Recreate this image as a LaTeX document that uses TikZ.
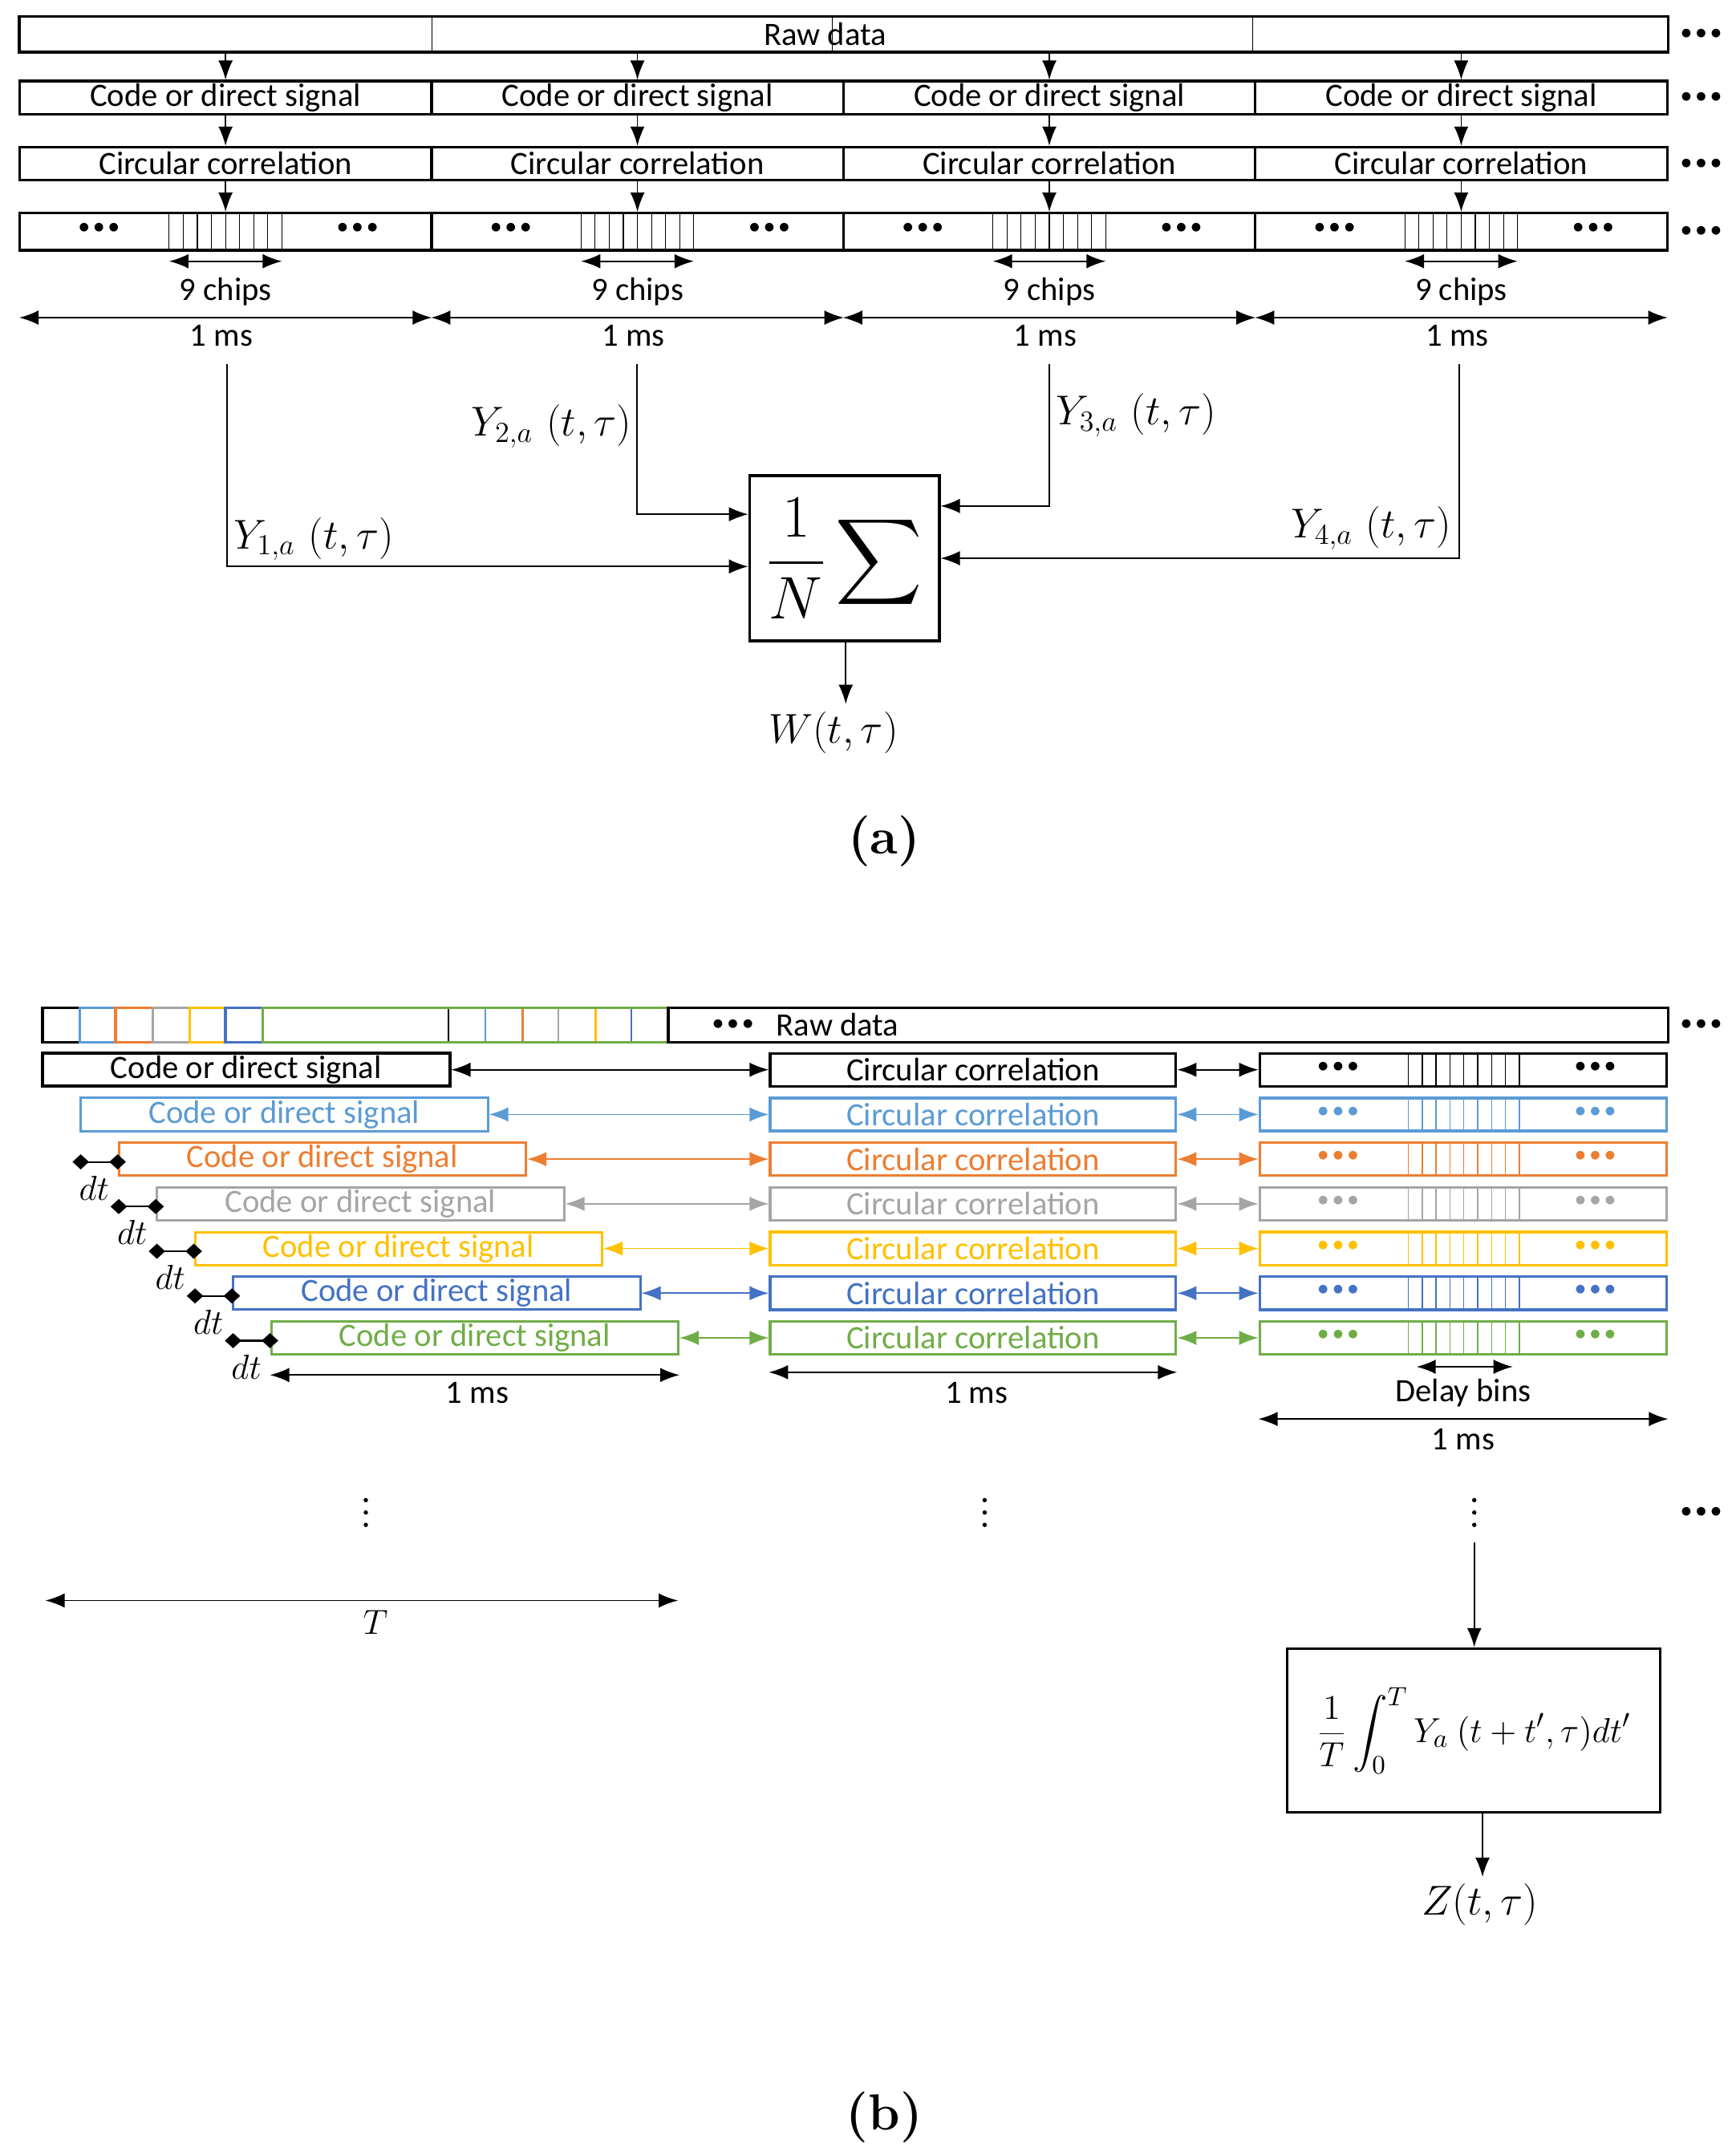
\documentclass[tikz,border=0pt]{standalone}
\usepackage{fontspec}
\setsansfont{Carlito}
\usepackage{amsmath}
\usetikzlibrary{arrows.meta,calc}
\definecolor{cA}{HTML}{5B9BD5}
\definecolor{cB}{HTML}{ED7D31}
\definecolor{cC}{HTML}{A5A5A5}
\definecolor{cD}{HTML}{FFC000}
\definecolor{cE}{HTML}{4472C4}
\definecolor{cF}{HTML}{70AD47}
\newcommand{\bdts}{$\bullet\mkern-1mu\bullet\mkern-1mu\bullet$}
\begin{document}
\begin{tikzpicture}[x=0.2mm,y=-0.2mm,
  every node/.style={font=\sffamily\fontsize{13.5}{15}\selectfont},
  box/.style={draw,line width=1.1pt,inner sep=0pt,minimum height=4.8mm},
  arr/.style={-{Latex[length=2.8mm,width=2.1mm]},line width=0.6pt},
  darr/.style={{Latex[length=2.8mm,width=2.1mm]}-{Latex[length=2.8mm,width=2.1mm]},line width=0.6pt},
  dmd/.style={{Diamond[length=2.4mm,width=2.2mm]}-{Diamond[length=2.4mm,width=2.2mm]},line width=0.7pt,shorten <=-1.2mm,shorten >=-1.2mm},
  dots/.style={font=\fontsize{9}{9}\selectfont},
  mathlbl/.style={font=\fontsize{18}{20}\selectfont}]
\useasboundingbox (0,0) rectangle (1259,1568);
% ---------------- (a) ----------------
\node[box,minimum width=239.8mm,minimum height=5.2mm] (raw) at (613.5,25) {};
\node at (600,25) {Raw data};
\foreach \x in {314,605,911} \draw[line width=0.4pt] (\x,12) -- (\x,38);
\foreach \y in {25,71,119,168} \node[dots] at (1237,\y) {\bdts};
\foreach \i/\cx in {1/164,2/463.5,3/763,4/1062.5}{
  \node[box,minimum width=59.9mm] (cd\i) at (\cx,71) {Code or direct signal};
  \node[box,minimum width=59.9mm] (cc\i) at (\cx,119) {Circular correlation};
  \node[box,minimum width=59.9mm,minimum height=5.4mm] (ch\i) at (\cx,168.5) {};
  \draw[arr] (raw.south -| cd\i) -- (cd\i.north);
  \draw[arr] (cd\i) -- (cc\i);
  \draw[arr] (cc\i) -- (ch\i.north);
  \foreach \k in {0,...,8} \draw[line width=0.4pt] (\cx-41+\k*10.25,155) -- ++(0,27);
  \node[dots] at (\cx-92,166) {\bdts};
  \node[dots] at (\cx+96,166) {\bdts};
  \draw[darr] (\cx-41,190) -- (\cx+41,190);
  \node at (\cx,212) {9 chips};
  \draw[darr] (\cx-150,231) -- (\cx+150,231);
  \node at (\cx-3,244) {1 ms};
}
\node[draw,line width=1.1pt,minimum width=27.6mm,minimum height=24mm,inner sep=0pt] (sum) at (614,406)
  {\fontsize{26}{28}\selectfont$\dfrac{1}{N}\displaystyle\sum$};
\coordinate (y1) at (165,265); \coordinate (y2) at (463,265);
\coordinate (y3) at (763,265); \coordinate (y4) at (1061,265);
\draw[arr] (y1) |- ($(sum.west)+(0,6)$);
\draw[arr] (y2) |- ($(sum.west)+(0,-32)$);
\draw[arr] (y3) |- ($(sum.east)+(0,-38)$);
\draw[arr] (y4) |- (sum.east);
\node[mathlbl] at (228,392) {$Y_{1,a}\ (t,\tau)$};
\node[mathlbl] at (401,310) {$Y_{2,a}\ (t,\tau)$};
\node[mathlbl] at (826,302) {$Y_{3,a}\ (t,\tau)$};
\node[mathlbl] at (997,384) {$Y_{4,a}\ (t,\tau)$};
\coordinate (wout) at (615,512);
\draw[arr] (sum.south -| wout) -- (wout);
\node[mathlbl] at (606,533) {$W(t,\tau)$};
\node[font=\rmfamily\bfseries\fontsize{21}{24}\selectfont] at (643,612) {(a)};
% ---------------- (b) ----------------
\draw[line width=1.1pt] (31,733) rectangle (58,758);
\foreach \a/\b/\c in {58/84/cA,84/111/cB,111/138/cC,138/164/cD,164/191/cE,191/486/cF}
  \draw[\c,line width=1.1pt] (\a,733) rectangle (\b,758);
\foreach \x/\c in {326/black,353/cA,380/cB,406/cC,433/cD,459/cE}
  \draw[\c,line width=0.8pt] (\x,734) -- (\x,757);
\node[box,minimum width=145.4mm,minimum height=5mm] (rawb) at (849.5,745.5) {};
\node[dots] at (533,745) {\bdts};
\node at (609,745) {Raw data};
\node[dots] at (1237,745) {\bdts};
\foreach \i/\c in {0/black,1/cA,2/cB,3/cC,4/cD,5/cE,6/cF}{
  \pgfmathsetmacro{\yy}{778+32.5*\i}
  \pgfmathsetmacro{\xx}{31+27.7*\i}
  \node[box,draw=\c,text=\c,minimum width=59.2mm,line width={\i==0?1.3pt:1pt}] (bc\i) at (\xx+148,\yy) {Code or direct signal};
  \node[box,draw=\c,text=\c,minimum width=59mm] (bx\i) at (707.5,\yy) {Circular correlation};
  \node[box,draw=\c,minimum width=59.2mm] (bh\i) at (1064,\yy) {};
  \draw[darr,draw=\c,fill=\c] (bc\i) -- (bx\i);
  \draw[darr,draw=\c,fill=\c] (bx\i) -- (bh\i);
  \foreach \k in {0,...,8} \draw[\c,line width=0.5pt] (1024+\k*10.1,\yy-12) -- ++(0,24);
  \node[dots,text=\c] at (973,\yy-2) {\bdts};
  \node[dots,text=\c] at (1160,\yy-2) {\bdts};
  \ifnum\i>1
    \draw[dmd] (\xx-27.7,\yy+2) -- (bc\i.west |- 0,\yy+2);
    \node[font=\fontsize{15}{16}\selectfont] at (\xx-18,\yy+21) {$dt$};
  \fi
}
\draw[darr] (bc6.south west |- 0,1000) -- (bc6.south east |- 0,1000);
\node at (347,1013) {1 ms};
\draw[darr] (bx6.south west |- 0,998) -- (bx6.south east |- 0,998);
\node at (710,1013) {1 ms};
\draw[darr] (1030,994) -- (1100,994);
\node at (1064,1013) {Delay bins};
\draw[darr] (bh6.south west |- 0,1032) -- (bh6.south east |- 0,1032);
\node at (1064,1047) {1 ms};
\foreach \x in {266,716,1072} \foreach \d in {-9,0,9} \fill (\x,1100+\d) circle (1.6);
\node[dots] at (1237,1100) {\bdts};
\draw[darr] (33,1164) -- (493,1164);
\node[font=\fontsize{15}{16}\selectfont] at (273,1180) {$T$};
\node[draw,line width=1.1pt,minimum width=54.2mm,minimum height=23.8mm,inner sep=0pt] (int) at (1071.5,1258.5)
  {\fontsize{15}{18}\selectfont$\dfrac{1}{T}\displaystyle\int_0^T Y_a\ (t+t',\tau)dt'$};
\coordinate (vin) at (1072,1122);
\draw[arr] (vin) -- (vin |- int.north);
\coordinate (zout) at (1078,1365);
\draw[arr] (zout |- int.south) -- (zout);
\node[mathlbl] at (1076,1385) {$Z(t,\tau)$};
\node[font=\rmfamily\bfseries\fontsize{21}{24}\selectfont] at (643,1540) {(b)};
\end{tikzpicture}
\end{document}
